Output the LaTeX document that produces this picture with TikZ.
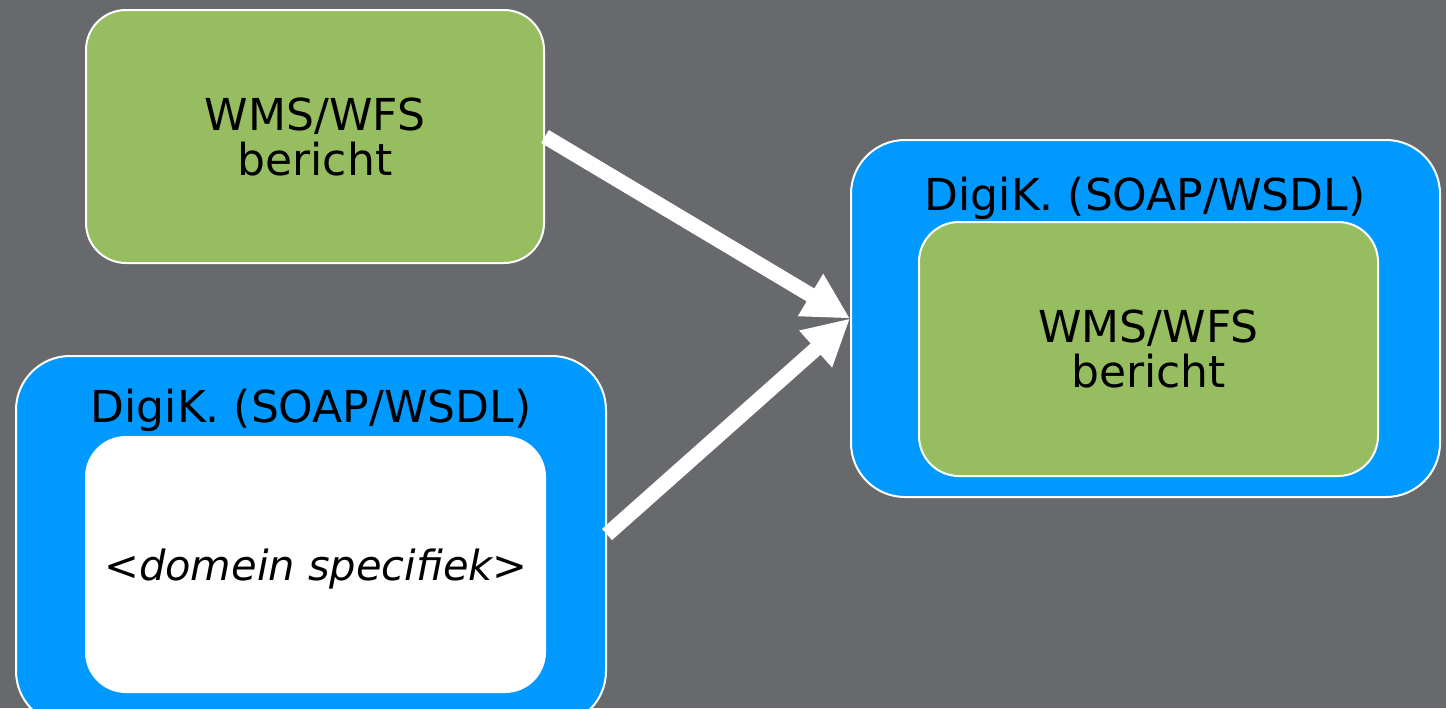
\documentclass[tikz,border=0pt]{standalone}
\usepackage{fontspec}
\setmainfont{DejaVu Sans}
\usetikzlibrary{arrows.meta}
\definecolor{bg}{HTML}{67696C}
\definecolor{blu}{HTML}{0099FF}
\definecolor{grn}{HTML}{96BD5F}
\tikzset{
  txt/.style={font=\fontsize{22}{22.5}\selectfont, text=black, align=center, inner sep=0pt},
  outerbox/.style={draw=white, line width=1pt, fill=blu, rounded corners=27pt, inner sep=0pt},
  innerbox/.style={draw=white, line width=1pt, rounded corners=20pt, inner sep=0pt, txt},
  arr/.style={draw=white, line width=7.5pt, -{Triangle[length=23pt,width=23pt]}}
}
\begin{document}
\begin{tikzpicture}[x=0.5pt,y=-0.5pt]
\fill[bg] (0,0) rectangle (1446,708);
\useasboundingbox (0,0) rectangle (1446,708);
\clip (0,0) rectangle (1446,708);
% top-left green
\node[innerbox, fill=grn, minimum width=229pt, minimum height=126.5pt] (g1) at (315,136.5) {WMS/WFS\\bericht};
% bottom-left blue
\node[outerbox, minimum width=295pt, minimum height=184.5pt] (b1) at (311,540.5) {};
\node[txt] (t1) at (311,410) {DigiK. (SOAP/WSDL)};
\node[innerbox, fill=white, minimum width=229.5pt, minimum height=127.5pt] (w1) at (315.5,564.5) {};
\node[txt, font=\fontsize{20.8}{22}\selectfont\itshape] (w1t) at (316,569) {<domein specifiek>};
% right blue
\node[outerbox, minimum width=294.5pt, minimum height=178.5pt] (b2) at (1145.5,318.5) {};
\node[txt] (t2) at (1145,198) {DigiK. (SOAP/WSDL)};
\node[innerbox, fill=grn, minimum width=229.5pt, minimum height=127pt] (g2) at (1148.5,349) {WMS/WFS\\bericht};
% arrows
\draw[arr] (g1.east) -- (b2.west);
\draw[arr] ([yshift=3pt]b1.east) -- (b2.west);
\end{tikzpicture}
\end{document}
